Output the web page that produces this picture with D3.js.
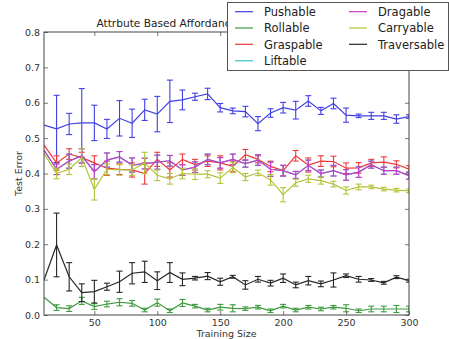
<!DOCTYPE html>
<html>
<head>
<meta charset="utf-8">
<script src="https://cdn.jsdelivr.net/npm/d3@7"></script>
<style>
html,body{margin:0;padding:0;background:#fff;}
svg{display:block;font-family:"DejaVu Sans",sans-serif;}
</style>
</head>
<body>
<svg id="chart" width="449" height="339"></svg>
<script>
const trainingSizes = [10,20,30,40,50,60,70,80,90,100,110,120,130,140,150,160,170,180,190,200,210,220,230,240,250,260,270,280,290,300];
const xTicks = [50,100,150,200,250,300];
const yTicks = [0.0,0.1,0.2,0.3,0.4,0.5,0.6,0.7,0.8];

const pushable = [0.537,0.526,0.540,0.543,0.543,0.526,0.556,0.542,0.580,0.568,0.604,0.608,0.617,0.625,0.586,0.577,0.575,0.541,0.571,0.586,0.579,0.605,0.577,0.598,0.565,0.563,0.563,0.563,0.554,0.561];
const pushableErr = [0,0.095,0.03,0.097,0.05,0.027,0.05,0.04,0.03,0.05,0.06,0.028,0.01,0.016,0.012,0.008,0.015,0.02,0.012,0.015,0.025,0.015,0.01,0.015,0.02,0.005,0.01,0.01,0.012,0.005];

const rollable = [0.050,0.021,0.018,0.040,0.024,0.031,0.036,0.033,0.014,0.035,0.012,0.034,0.025,0.014,0.022,0.019,0.018,0.022,0.012,0.025,0.014,0.022,0.017,0.022,0.019,0.012,0.017,0.017,0.017,0.017];
const rollableErr = [0,0.008,0.008,0.01,0.008,0.008,0.01,0.008,0.005,0.01,0.005,0.01,0.005,0.005,0.008,0.01,0.005,0.005,0.005,0.005,0.005,0.005,0.005,0.005,0.01,0.005,0.008,0.008,0.01,0.008];

const graspable = [0.480,0.430,0.455,0.445,0.430,0.415,0.412,0.410,0.400,0.440,0.410,0.440,0.425,0.435,0.430,0.420,0.453,0.440,0.420,0.408,0.450,0.424,0.435,0.434,0.415,0.416,0.430,0.432,0.426,0.412];
const graspableErr = [0,0.02,0.015,0.015,0.02,0.02,0.015,0.02,0.03,0.02,0.02,0.015,0.015,0.015,0.02,0.015,0.015,0.01,0.015,0.015,0.015,0.02,0.015,0.015,0.015,0.015,0.01,0.015,0.01,0.01];

const liftable = [0.466,0.412,0.435,0.450,0.405,0.438,0.447,0.424,0.428,0.432,0.436,0.410,0.418,0.440,0.430,0.440,0.428,0.438,0.412,0.408,0.396,0.423,0.400,0.408,0.396,0.404,0.425,0.408,0.408,0.394];
const liftableErr = [0,0.015,0.02,0.02,0.02,0.02,0.015,0.02,0.015,0.02,0.015,0.015,0.015,0.015,0.015,0.015,0.01,0.015,0.02,0.015,0.01,0.015,0.01,0.015,0.015,0.015,0.01,0.01,0.01,0.01];

const dragable = [0.466,0.412,0.435,0.450,0.405,0.438,0.447,0.424,0.428,0.432,0.436,0.410,0.418,0.440,0.430,0.440,0.428,0.438,0.412,0.408,0.396,0.423,0.400,0.408,0.396,0.404,0.425,0.408,0.408,0.394];
const dragableErr = [0,0.015,0.02,0.02,0.02,0.02,0.015,0.02,0.015,0.02,0.015,0.015,0.015,0.015,0.015,0.015,0.01,0.015,0.02,0.015,0.01,0.015,0.01,0.015,0.015,0.015,0.01,0.01,0.01,0.01];

const carryable = [0.457,0.400,0.412,0.445,0.355,0.412,0.410,0.410,0.430,0.395,0.385,0.400,0.398,0.398,0.387,0.417,0.390,0.402,0.382,0.340,0.374,0.385,0.380,0.370,0.352,0.362,0.362,0.356,0.353,0.351];
const carryableErr = [0,0.015,0.015,0.025,0.03,0.015,0.015,0.015,0.03,0.015,0.015,0.015,0.015,0.01,0.015,0.015,0.01,0.008,0.015,0.02,0.01,0.01,0.01,0.008,0.01,0.008,0.005,0.005,0.005,0.005];

const traversable = [0.099,0.198,0.108,0.063,0.066,0.080,0.094,0.118,0.122,0.097,0.120,0.101,0.104,0.110,0.094,0.108,0.085,0.101,0.090,0.104,0.085,0.097,0.088,0.099,0.111,0.101,0.099,0.091,0.107,0.097];
const traversableErr = [0,0.09,0.04,0.025,0.032,0.01,0.03,0.03,0.03,0.025,0.028,0.018,0.005,0.01,0.01,0.004,0.012,0.008,0.008,0.012,0.008,0.012,0.008,0.02,0.005,0.008,0.004,0.004,0.004,0.004];

const seriesNames = ["Pushable","Rollable","Graspable","Liftable","Dragable","Carryable","Traversable"];
const seriesColors = ["#4040e6","#3d9a3d","#ee3838","#35c2c2","#c93ac9","#b3c336","#262626"];
const seriesValues = [pushable,rollable,graspable,liftable,dragable,carryable,traversable];
const seriesErrors = [pushableErr,rollableErr,graspableErr,liftableErr,dragableErr,carryableErr,traversableErr];

const svg = d3.select("#chart");
const L = 44, R = 409, T = 32, B = 315;
const x = d3.scaleLinear().domain([10,300]).range([L,R]);
const y = d3.scaleLinear().domain([0,0.8]).range([B,T]);

svg.append("defs").append("clipPath").attr("id","clip")
  .append("rect").attr("x",L).attr("y",T).attr("width",R-L).attr("height",B-T);

// title (partly hidden behind the legend, as in the original)
svg.append("text").attr("x",96.5).attr("y",26.5)
  .attr("font-size",10.6).attr("fill","#222")
  .text("Attrbute Based Affordance Prediction");

const plot = svg.append("g").attr("clip-path","url(#clip)");
const line = d3.line().x((d,i)=>x(trainingSizes[i])).y(d=>y(d));

seriesValues.forEach((vals,si)=>{
  const g = plot.append("g");
  const col = seriesColors[si];
  const errs = seriesErrors[si];
  g.append("path").datum(vals).attr("d",line)
    .attr("fill","none").attr("stroke",col).attr("stroke-width",1.2);
  vals.forEach((v,i)=>{
    const e = errs[i];
    if (!e) return;
    const cx = x(trainingSizes[i]);
    const y1 = y(v+e), y2 = y(v-e);
    g.append("line").attr("x1",cx).attr("x2",cx).attr("y1",y1).attr("y2",y2)
      .attr("stroke",col).attr("stroke-width",1.1);
    [y1,y2].forEach(yy=>{
      g.append("line").attr("x1",cx-3).attr("x2",cx+3).attr("y1",yy).attr("y2",yy)
        .attr("stroke",col).attr("stroke-width",1.1);
    });
  });
});

// axes
const axB = d3.axisBottom(x).tickValues(xTicks).tickSize(-4).tickPadding(4).tickFormat(d3.format("d"));
const axT = d3.axisTop(x).tickValues(xTicks).tickSize(-4).tickFormat("");
const axLft = d3.axisLeft(y).tickValues(yTicks).tickSize(-4).tickPadding(4).tickFormat(d3.format(".1f"));
const axRgt = d3.axisRight(y).tickValues(yTicks).tickSize(-4).tickFormat("");

function styleAxis(g){
  g.select(".domain").remove();
  g.selectAll(".tick line").attr("stroke","#555").attr("stroke-width",0.8);
  g.selectAll(".tick text").attr("fill","#333").attr("font-size",9.5).attr("font-family","DejaVu Sans, sans-serif");
}
svg.append("g").attr("transform",`translate(0,${B})`).call(axB).call(styleAxis);
svg.append("g").attr("transform",`translate(0,${T})`).call(axT).call(styleAxis);
svg.append("g").attr("transform",`translate(${L},0)`).call(axLft).call(styleAxis);
svg.append("g").attr("transform",`translate(${R},0)`).call(axRgt).call(styleAxis);

svg.append("rect").attr("x",L).attr("y",T).attr("width",R-L).attr("height",B-T)
  .attr("fill","none").attr("stroke","#444").attr("stroke-width",1);

svg.append("text").attr("x",(L+R)/2).attr("y",337).attr("text-anchor","middle")
  .attr("font-size",9.5).attr("fill","#333").text("Training Size");
svg.append("text").attr("transform",`translate(22,${(T+B)/2}) rotate(-90)`)
  .attr("text-anchor","middle").attr("font-size",9.5).attr("fill","#333").text("Test Error");

// legend
const lg = svg.append("g");
lg.append("rect").attr("x",227.5).attr("y",2.5).attr("width",221).attr("height",68)
  .attr("fill","#fff").attr("stroke","#555").attr("stroke-width",1);
const rowY = [11.7,28,44.3,60.8];
seriesNames.forEach((n,i)=>{
  const col = i<4 ? 0 : 1;
  const row = i<4 ? i : i-4;
  const lx = col===0 ? 235 : 349;
  const yy = rowY[row];
  lg.append("line").attr("x1",lx).attr("x2",lx+18).attr("y1",yy).attr("y2",yy)
    .attr("stroke",seriesColors[i]).attr("stroke-width",1.2);
  lg.append("text").attr("x",lx+29).attr("y",yy+4.2).attr("font-size",11.5)
    .attr("fill","#222").text(n);
});
</script>
</body>
</html>
